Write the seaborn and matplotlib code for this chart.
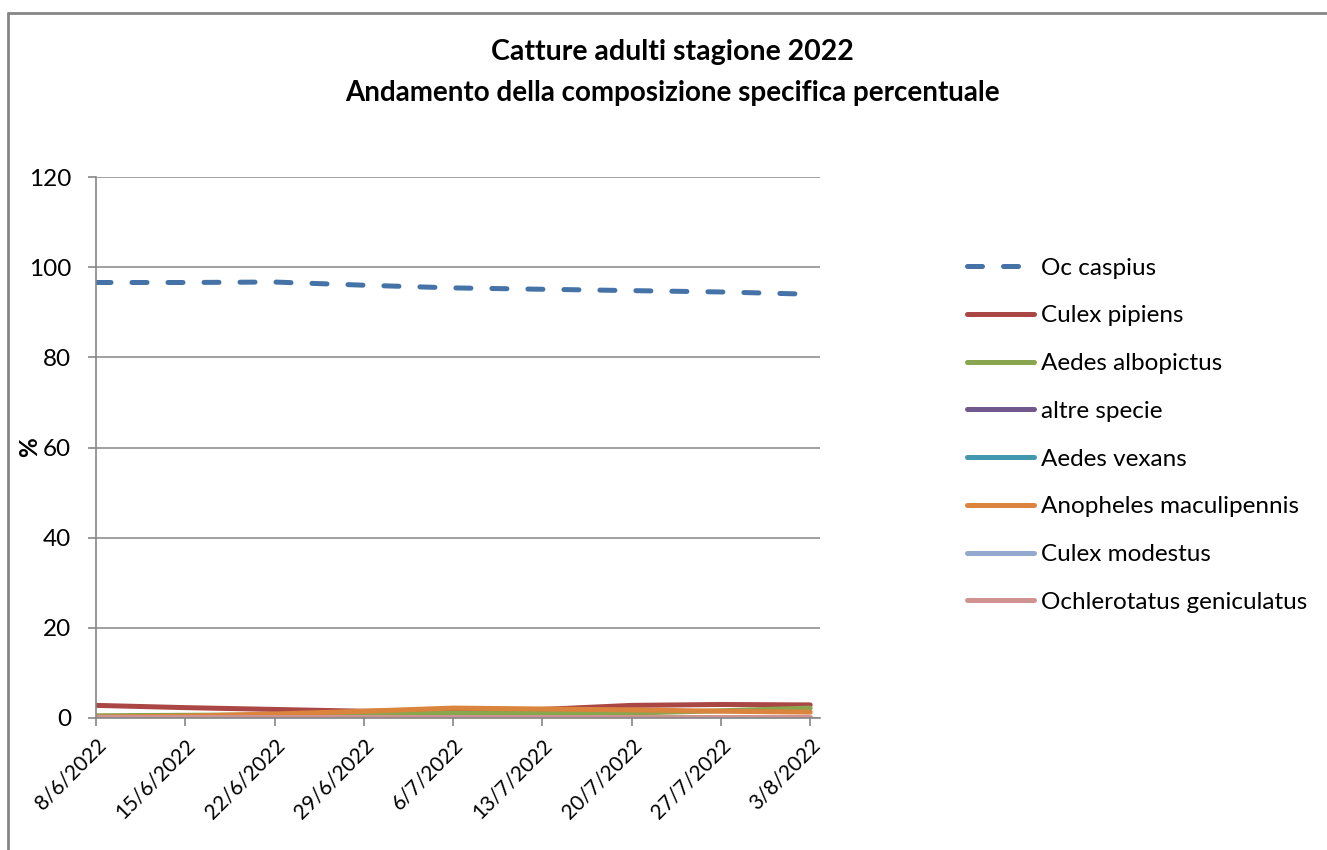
import matplotlib
matplotlib.use('Agg')
import matplotlib.pyplot as plt
import matplotlib.transforms as mtransforms
from matplotlib.lines import Line2D
import seaborn as sns
import pandas as pd

# Data (percent composition per sampling date)
dates = ['8/6/2022', '15/6/2022', '22/6/2022', '29/6/2022', '6/7/2022',
         '13/7/2022', '20/7/2022', '27/7/2022', '3/8/2022']
oc_caspius = [96.6, 96.6, 96.7, 96.0, 95.4, 95.1, 94.8, 94.5, 94.0]
culex_pipiens = [2.8, 2.3, 1.9, 1.5, 1.7, 1.9, 2.8, 3.0, 2.9]
aedes_albopictus = [0.5, 0.6, 0.7, 0.8, 1.1, 1.0, 1.1, 1.6, 2.2]
altre_specie = [0.05, 0.05, 0.05, 0.05, 0.05, 0.05, 0.05, 0.05, 0.05]
aedes_vexans = [0.05, 0.05, 0.05, 0.05, 0.05, 0.05, 0.05, 0.05, 0.05]
anopheles = [0.2, 0.4, 0.9, 1.5, 2.2, 2.0, 1.8, 1.5, 1.3]
culex_modestus = [0.1, 0.1, 0.1, 0.1, 0.1, 0.1, 0.1, 0.1, 0.1]
ochlerotatus = [0.2, 0.2, 0.2, 0.2, 0.2, 0.2, 0.2, 0.2, 0.2]

species = ['Oc caspius', 'Culex pipiens', 'Aedes albopictus', 'altre specie',
           'Aedes vexans', 'Anopheles maculipennis', 'Culex modestus',
           'Ochlerotatus geniculatus']
series = [oc_caspius, culex_pipiens, aedes_albopictus, altre_specie,
          aedes_vexans, anopheles, culex_modestus, ochlerotatus]
colors = ['#4572A7', '#AA4643', '#89A54E', '#71588F',
          '#4198AF', '#DB843D', '#93A9CF', '#D19392']

rows = []
for name, vals in zip(species, series):
    for i, v in enumerate(vals):
        rows.append({'idx': i, 'value': v, 'species': name})
df = pd.DataFrame(rows)

sns.set_style('white')
plt.rcParams['font.family'] = ['Lato', 'DejaVu Sans']
plt.rcParams['text.color'] = 'black'
plt.rcParams['xtick.color'] = 'black'
plt.rcParams['ytick.color'] = 'black'
FS = 17.5
GRID = '#868686'

fig = plt.figure(figsize=(13.27, 8.5), dpi=100)
ax = fig.add_axes([96 / 1327, 1 - 718 / 850, (820 - 96) / 1327, (718 - 177) / 850])

dash_map = {s: '' for s in species}
dash_map['Oc caspius'] = (3.0, 4.2)
sns.lineplot(data=df, x='idx', y='value', hue='species', style='species',
             hue_order=species, style_order=species,
             palette=dict(zip(species, colors)), dashes=dash_map,
             linewidth=3.6, ax=ax, legend=True)
for line in ax.lines:
    line.set_solid_capstyle('round')
    line.set_dash_capstyle('round')
    line.set_solid_joinstyle('round')

ax.set_xlim(0, 8.11)
ax.set_ylim(0, 120)
ax.set_yticks(range(0, 121, 20))
ax.set_xticks(range(len(dates)))
ax.set_xticklabels(dates, rotation=45, ha='right', rotation_mode='anchor',
                   fontsize=15)
offset = mtransforms.ScaledTranslation(16 / 100, -10 / 100, fig.dpi_scale_trans)
for lab in ax.get_xticklabels():
    lab.set_transform(lab.get_transform() + offset)
ax.tick_params(axis='y', labelsize=FS, length=6, width=1.2, color=GRID,
               labelcolor='black', direction='out', pad=12, left=True)
ax.tick_params(axis='x', length=6, width=1.2, color=GRID, labelcolor='black',
               direction='out', pad=6, bottom=True)
ax.yaxis.grid(True, color=GRID, linewidth=1.1)
ax.set_axisbelow(True)
for side in ['top', 'right']:
    ax.spines[side].set_visible(False)
for side in ['left', 'bottom']:
    ax.spines[side].set_color(GRID)
    ax.spines[side].set_linewidth(1.2)

ax.set_xlabel('')
ax.set_ylabel('%', fontsize=FS, fontweight='bold', color='black')
ax.yaxis.set_label_coords((41 - 96) / 724, 0.5)

handles, labels = ax.get_legend_handles_labels()
leg = ax.legend(handles, labels, loc='upper left',
                bbox_to_anchor=(957 / 1327, 1 - 248 / 850),
                bbox_transform=fig.transFigure, frameon=False, fontsize=FS,
                handlelength=2.75, handletextpad=0.3, labelspacing=1.1,
                borderaxespad=0)
for t in leg.get_texts():
    t.set_color('black')

fig.text(0.507, 1 - 52 / 850, 'Catture adulti stagione 2022', ha='center',
         va='center', fontsize=20.5, fontweight='bold')
fig.text(0.507, 1 - 93 / 850, 'Andamento della composizione specifica percentuale',
         ha='center', va='center', fontsize=20, fontweight='bold')

# outer chart frame (only top and left edges are visible in the reference)
fig.add_artist(Line2D([8 / 1327, 8 / 1327], [0, 1 - 13 / 850],
                      transform=fig.transFigure, color=GRID, linewidth=2))
fig.add_artist(Line2D([8 / 1327, 1], [1 - 13 / 850, 1 - 13 / 850],
                      transform=fig.transFigure, color=GRID, linewidth=2))

fig.savefig('out.png', dpi=100)
